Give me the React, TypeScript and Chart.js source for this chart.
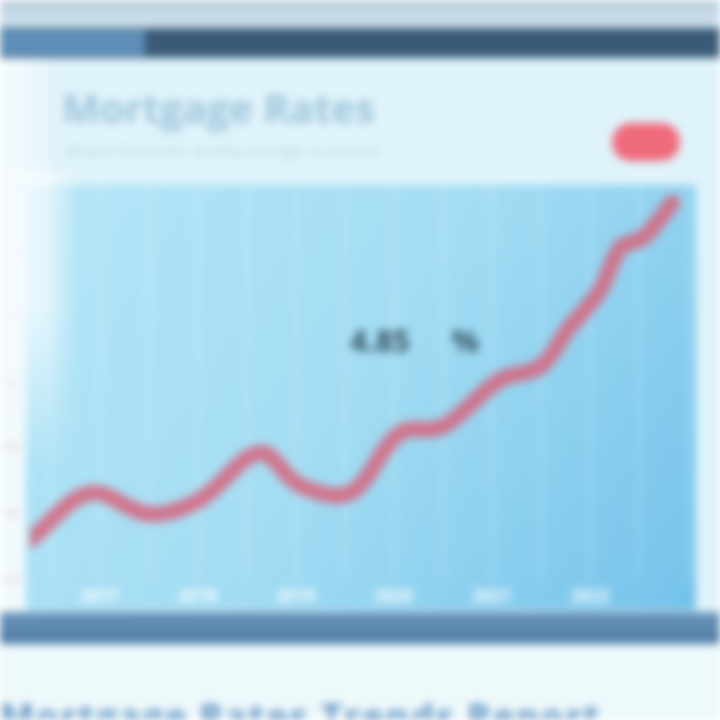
import React, { useEffect, useRef } from "react";
import { Chart, registerables } from "chart.js";
Chart.register(...registerables);

const years = [2016.29, 2016.9, 2017.51, 2018.02, 2018.63, 2019.04, 2019.55, 2020.06, 2020.5, 2021.08, 2021.49, 2021.77, 2022.1, 2022.31, 2022.54, 2022.84];
const rates = [2.61, 3.32, 3.0, 3.22, 3.93, 3.44, 3.32, 4.23, 4.33, 5.04, 5.24, 5.8, 6.4, 7.05, 7.2, 7.73];
const yTicks = [2, 3, 4, 5, 6, 7, 8];
const xLabelYears = [2017, 2018, 2019, 2020, 2021, 2022];
const title = "Mortgage Rates";
const subtitle = "30-year fixed rate, weekly average, in percent";
const badge = "LIVE";
const callout = "4.85 %";
const footer = "Mortgage Rates Trends Report";

const bgPlugin = {
  id: "bgFill",
  beforeDraw(chart: any) {
    const { ctx, chartArea, height } = chart;
    if (!chartArea) return;
    const g = ctx.createLinearGradient(chartArea.left, chartArea.top, chartArea.right, height);
    g.addColorStop(0, "#b4e6f7");
    g.addColorStop(0.5, "#a2dcf3");
    g.addColorStop(1, "#74c2ea");
    ctx.save();
    ctx.fillStyle = g;
    ctx.fillRect(chartArea.left - 4, chartArea.top, chartArea.right - chartArea.left + 8, height - chartArea.top);
    ctx.restore();
  },
};

export default function App() {
  const ref = useRef<HTMLCanvasElement>(null);
  useEffect(() => {
    if (!ref.current) return;
    const chart = new Chart(ref.current, {
      type: "line",
      data: {
        datasets: [
          {
            data: years.map((x, i) => ({ x, y: rates[i] })),
            borderColor: "rgba(214,104,128,0.88)",
            borderWidth: 16,
            tension: 0.35,
            pointRadius: 0,
            fill: false,
            borderCapStyle: "round",
            borderJoinStyle: "round",
          },
        ],
      },
      options: {
        animation: false,
        responsive: false,
        layout: { padding: { top: 15, right: 13, left: 0, bottom: 0 } },
        plugins: { legend: { display: false }, tooltip: { enabled: false } },
        scales: {
          x: {
            type: "linear",
            min: 2016.29,
            max: 2023.04,
            afterFit: (s: any) => { s.height = 30; },
            afterBuildTicks: (s: any) => {
              const t = [];
              for (let v = 2016.5; v <= 2023.0; v += 0.5) t.push({ value: v });
              s.ticks = t;
            },
            grid: { color: "rgba(255,255,255,0.3)", lineWidth: 2, drawTicks: false },
            border: { display: false },
            ticks: {
              color: "rgba(255,255,255,0.95)",
              font: { size: 17, weight: "bold", family: "Open Sans" },
              padding: 7,
              autoSkip: false,
              maxRotation: 0,
              callback: (v: any) => (xLabelYears.includes(Number(v)) ? String(v) : ""),
            },
          },
          y: {
            min: 2,
            max: 8,
            afterFit: (s: any) => { s.width = 30; },
            afterBuildTicks: (s: any) => { s.ticks = yTicks.map((v) => ({ value: v })); },
            grid: { display: false },
            border: { display: false },
            ticks: {
              color: "rgba(190,130,140,0.55)",
              font: { size: 11, family: "Open Sans" },
              callback: (v: any) => v + "%",
            },
          },
        },
      },
      plugins: [bgPlugin],
    } as any);
    return () => chart.destroy();
  }, []);

  return (
    <div style={{ position: "fixed", left: 0, top: 0, width: 720, height: 720, overflow: "hidden", background: "#dff3fa", filter: "blur(4px)", fontFamily: "Open Sans, sans-serif" }}>
      <div style={{ position: "absolute", left: 0, top: 0, width: 720, height: 28, background: "linear-gradient(180deg,#b9cfdb,#cfe3ee)" }} />
      <div style={{ position: "absolute", left: 0, top: 28, width: 720, height: 30, background: "#3b5a77" }} />
      <div style={{ position: "absolute", left: 0, top: 30, width: 145, height: 26, background: "#5e8fb8" }} />
      <div style={{ position: "absolute", left: 0, top: 58, width: 50, height: 560, background: "linear-gradient(90deg,#f6fcfe,#e4f5fb)" }} />
      <div style={{ position: "absolute", left: 62, top: 80, fontSize: 40, fontWeight: 700, color: "#9fc5dc", whiteSpace: "nowrap" }}>{title}</div>
      <div style={{ position: "absolute", left: 64, top: 140, fontSize: 15, color: "#bcdae7", whiteSpace: "nowrap" }}>{subtitle}</div>
      <div style={{ position: "absolute", left: 612, top: 123, width: 68, height: 38, borderRadius: 19, background: "#f06b7c", color: "#f06b7c", fontSize: 12, display: "flex", alignItems: "center", justifyContent: "center" }}>{badge}</div>
      <canvas ref={ref} width={705} height={440} style={{ position: "absolute", left: 0, top: 170, width: 705, height: 440 }} />
      <div style={{ position: "absolute", left: 0, top: 170, width: 80, height: 300, background: "linear-gradient(90deg, rgba(244,251,254,0.92) 0px, rgba(244,251,254,0.75) 45px, rgba(244,251,254,0) 80px)", WebkitMaskImage: "linear-gradient(180deg, #000 0%, #000 45%, transparent 100%)" }} />
      <div style={{ position: "absolute", left: 350, top: 320, fontSize: 30, fontWeight: 700, color: "#34525f", whiteSpace: "nowrap", wordSpacing: 34 }}>{callout}</div>
      <div style={{ position: "absolute", left: 0, top: 612, width: 720, height: 32, background: "linear-gradient(180deg,#6a95bb,#4f7ca5)" }} />
      <div style={{ position: "absolute", left: 0, top: 644, width: 720, height: 76, background: "#eef9fc" }} />
      <div style={{ position: "absolute", left: 0, top: 692, fontSize: 36, fontWeight: 700, color: "#5f93c2", whiteSpace: "nowrap", letterSpacing: 2 }}>{footer}</div>
    </div>
  );
}
